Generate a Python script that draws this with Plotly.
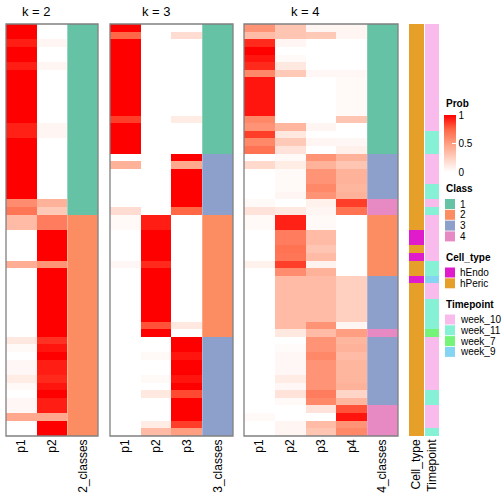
import plotly.graph_objects as go

FONT = "Liberation Sans"

# ---------------- data (54 samples, top to bottom) ----------------
n_rows = 54
rows = list(range(n_rows))

k2_labels = ["p1", "p2", "2_classes"]
k2_p1 = [1, 1, 0.93, 1, 1, 0.93, 1, 1, 1, 1, 1, 1, 1, 0.92, 0.92, 1, 1, 1, 1, 1, 1, 1, 1, 0.58, 0.68,
         0.35, 0.35, 0, 0, 0, 0, 0.42, 0, 0, 0, 0, 0, 0, 0, 0, 0, 0.12, 0.03, 0, 0.04, 0.04, 0.1, 0.03, 0,
         0.04, 0.04, 0.45, 0, 0]
k2_p2 = [0, 0, 0.05, 0, 0, 0.05, 0, 0, 0, 0, 0, 0, 0, 0.05, 0.05, 0, 0, 0, 0, 0, 0, 0, 0, 0.4, 0.28,
         0.65, 0.65, 1, 1, 1, 1, 0.55, 1, 1, 1, 1, 1, 1, 1, 1, 1, 0.88, 0.95, 1, 0.93, 0.93, 0.9, 0.95, 1,
         0.93, 0.93, 0.45, 1, 1]
k2_class = [1, 1, 1, 1, 1, 1, 1, 1, 1, 1, 1, 1, 1, 1, 1, 1, 1, 1, 1, 1, 1, 1, 1, 1, 1,
            2, 2, 2, 2, 2, 2, 2, 2, 2, 2, 2, 2, 2, 2, 2, 2, 2, 2, 2, 2, 2, 2, 2, 2, 2, 2, 2, 2, 2]

k3_labels = ["p1", "p2", "p3", "3_classes"]
k3_p1 = [1, 0.75, 1, 1, 1, 1, 1, 1, 1, 1, 1, 1, 0.85, 1, 1, 1, 1,
         0, 0.4, 0, 0, 0, 0, 0, 0.18,
         0.03, 0.03, 0, 0, 0, 0, 0.04, 0, 0, 0, 0, 0, 0, 0, 0, 0,
         0, 0, 0, 0, 0, 0, 0, 0, 0, 0, 0, 0, 0]
k3_p2 = [0, 0, 0, 0, 0, 0, 0, 0, 0, 0, 0, 0, 0, 0, 0, 0, 0,
         0, 0, 0, 0, 0, 0, 0, 0,
         0.93, 0.93, 1, 1, 1, 1, 0.9, 1, 1, 1, 1, 1, 1, 1, 0.8, 1,
         0, 0, 0.03, 0, 0, 0.03, 0, 0.12, 0, 0, 0, 0.1, 0.35]
k3_p3 = [0, 0.18, 0, 0, 0, 0, 0, 0, 0, 0, 0, 0, 0.1, 0, 0, 0, 0,
         1, 0.45, 1, 1, 1, 1, 1, 0.75,
         0, 0, 0, 0, 0, 0, 0, 0, 0, 0, 0, 0, 0, 0, 0.12, 0,
         1, 1, 0.95, 1, 1, 0.95, 1, 0.82, 1, 1, 1, 0.85, 0.5]
k3_class = [1, 1, 1, 1, 1, 1, 1, 1, 1, 1, 1, 1, 1, 1, 1, 1, 1,
            3, 3, 3, 3, 3, 3, 3, 3,
            2, 2, 2, 2, 2, 2, 2, 2, 2, 2, 2, 2, 2, 2, 2, 2,
            3, 3, 3, 3, 3, 3, 3, 3, 3, 3, 3, 3, 3]

k4_labels = ["p1", "p2", "p3", "p4", "4_classes"]
k4_p1 = [0.55, 0.35, 0.9, 1, 0.95, 0.9, 0.6, 0.95, 0.95, 0.95, 0.95, 0.95, 0.6, 0.55, 0.85, 0.6, 0.7,
         0, 0.2, 0, 0, 0, 0, 0.03, 0.15,
         0.03, 0.03, 0, 0, 0, 0, 0.07, 0,
         0, 0, 0, 0, 0, 0, 0, 0, 0, 0, 0, 0, 0, 0, 0, 0, 0, 0, 0.03, 0, 0]
k4_p2 = [0.3, 0.3, 0.05, 0, 0.03, 0.12, 0.28, 0, 0, 0, 0, 0, 0, 0.38, 0.12, 0.28, 0.15,
         0.03, 0.1, 0.03, 0.03, 0.03, 0.05, 0, 0.12,
         0.92, 0.92, 0.65, 0.65, 0.7, 0.68, 0.85, 0.58,
         0.35, 0.35, 0.35, 0.35, 0.35, 0.35, 0.35, 0.12, 0, 0.02, 0.04, 0.04, 0.04, 0.1, 0.04, 0.15,
         0.03, 0, 0, 0.05, 0.05]
k4_p3 = [0.05, 0.28, 0, 0, 0, 0, 0.04, 0, 0, 0, 0, 0, 0, 0.05, 0, 0.05, 0,
         0.55, 0.4, 0.55, 0.55, 0.6, 0.55, 0.07, 0.05,
         0.03, 0.03, 0.35, 0.35, 0.3, 0.35, 0.06, 0.4,
         0.35, 0.35, 0.35, 0.35, 0.35, 0.35, 0.55, 0.35, 0.55, 0.55, 0.6, 0.55, 0.55, 0.55, 0.55, 0.65,
         0.6, 0.15, 0, 0.35, 0.3]
k4_p4 = [0.05, 0.05, 0, 0, 0, 0, 0.04, 0.03, 0.03, 0.03, 0.03, 0.03, 0.3, 0, 0, 0.04, 0.08,
         0.4, 0.3, 0.4, 0.4, 0.38, 0.4, 0.85, 0.7,
         0, 0, 0, 0, 0, 0, 0, 0,
         0.25, 0.25, 0.25, 0.25, 0.25, 0.25, 0.05, 0.5, 0.38, 0.4, 0.35, 0.38, 0.38, 0.38, 0.4, 0.22,
         0.38, 0.8, 0.95, 0.55, 0.6]
k4_class = [1, 1, 1, 1, 1, 1, 1, 1, 1, 1, 1, 1, 1, 1, 1, 1, 1,
            3, 3, 3, 3, 3, 3, 4, 4,
            2, 2, 2, 2, 2, 2, 2, 2,
            3, 3, 3, 3, 3, 3, 3, 4, 3, 3, 3, 3, 3, 3, 3, 3,
            3, 4, 4, 4, 4]

cell_types = ["hEndo", "hPeric"]
cell_type = ["hPeric"] * 27 + ["hEndo", "hEndo", "hPeric", "hEndo", "hPeric", "hPeric", "hEndo"] + ["hPeric"] * 20

timepoints = ["week_10", "week_11", "week_7", "week_9"]
timepoint = (["week_10"] * 14 + ["week_11"] * 3 + ["week_10"] * 4 + ["week_11"] * 2 + ["week_10"]
             + ["week_11"] + ["week_10"] * 6 + ["week_11"] * 2 + ["week_9"] + ["week_10"] * 2
             + ["week_11"] * 4 + ["week_7"] + ["week_10"] * 7 + ["week_11"] * 2 + ["week_10"] * 3
             + ["week_11"])

class_names = ["1", "2", "3", "4"]
class_colors = ["#66C2A5", "#FC8D62", "#8DA0CB", "#E78AC3"]
cell_colors = ["#E01BCB", "#E69F28"]
time_colors = ["#F9BAEC", "#86F1D4", "#76F47A", "#84D4F2"]

prob_scale = [[0, "#FFFFFF"], [0.25, "rgb(255,207,191)"], [0.5, "rgb(255,158,129)"],
              [0.75, "rgb(255,103,70)"], [1, "#FF0000"]]


def step_scale(colors):
    n = len(colors)
    s = []
    for i, c in enumerate(colors):
        s.append([i / n, c])
        s.append([(i + 1) / n, c])
    return s


W = H = 504
fig = go.Figure()

panels = [
    ("x", [k2_p1, k2_p2], k2_class, k2_labels, "k = 2", (6, 98)),
    ("x2", [k3_p1, k3_p2, k3_p3], k3_class, k3_labels, "k = 3", (110, 233)),
    ("x3", [k4_p1, k4_p2, k4_p3, k4_p4], k4_class, k4_labels, "k = 4", (244, 398)),
]

for idx, (xa, probs, cls, labels, title, dom) in enumerate(panels):
    ncol = len(probs)
    z = [[p[r] for p in probs] for r in rows]
    show = idx == 0
    fig.add_trace(go.Heatmap(
        z=z, x=list(range(ncol)), y=rows, xaxis=xa, yaxis="y",
        colorscale=prob_scale, zmin=0, zmax=1, showscale=show, hoverinfo="skip",
        colorbar=dict(x=444 / W, xanchor="left", xpad=0, y=1 - 115 / H, yanchor="top", ypad=0,
                      len=57, lenmode="pixels", thickness=12, thicknessmode="pixels",
                      outlinewidth=0, tickvals=[0, 0.5, 1], ticktext=["0", "0.5", "1"],
                      ticks="inside", ticklen=4, tickcolor="white",
                      tickfont=dict(family=FONT, size=10, color="#000")) if show else None,
    ))
    fig.add_trace(go.Heatmap(
        z=[[c] for c in cls], x0=ncol, dx=1, y=rows, xaxis=xa, yaxis="y",
        colorscale=step_scale(class_colors), zmin=0.5, zmax=4.5, showscale=False, hoverinfo="skip",
    ))
    axname = "xaxis" if xa == "x" else "xaxis" + xa[1:]
    fig.update_layout(**{axname: dict(
        domain=[dom[0] / W, dom[1] / W], anchor="y", range=[-0.5, ncol + 0.5],
        tickmode="array", tickvals=list(range(ncol + 1)), ticktext=labels, tickangle=-90,
        showgrid=False, zeroline=False, showline=False, ticks="",
        tickfont=dict(family=FONT, size=12, color="#000"), fixedrange=True)})
    fig.add_annotation(x=(ncol - 1) / 2, xref=xa, y=1 - 11 / H, yref="paper", text=title,
                       showarrow=False, font=dict(family=FONT, size=13, color="#000"),
                       xanchor="center", yanchor="middle")
    fig.add_shape(type="rect", xref=xa + " domain", yref="y domain", x0=0, x1=1, y0=0, y1=1,
                  line=dict(color="#808080", width=1.3), fillcolor="rgba(0,0,0,0)")

# annotation columns
ct_idx = [cell_types.index(c) for c in cell_type]
tp_idx = [timepoints.index(t) for t in timepoint]
fig.add_trace(go.Heatmap(z=[[v] for v in ct_idx], x0=0, dx=1, y=rows, xaxis="x4", yaxis="y",
                         colorscale=step_scale(cell_colors), zmin=-0.5, zmax=1.5,
                         showscale=False, hoverinfo="skip"))
fig.add_trace(go.Heatmap(z=[[v] for v in tp_idx], x0=0, dx=1, y=rows, xaxis="x5", yaxis="y",
                         colorscale=step_scale(time_colors), zmin=-0.5, zmax=3.5,
                         showscale=False, hoverinfo="skip"))
for name, dom, lab in [("xaxis4", (409, 424), "Cell_type"), ("xaxis5", (425, 439), "Timepoint")]:
    fig.update_layout(**{name: dict(
        domain=[dom[0] / W, dom[1] / W], anchor="y", range=[-0.5, 0.5],
        tickmode="array", tickvals=[0], ticktext=[lab], tickangle=-90,
        showgrid=False, zeroline=False, showline=False, ticks="",
        tickfont=dict(family=FONT, size=12, color="#000"), fixedrange=True)})

fig.update_layout(yaxis=dict(domain=[1 - 436 / H, 1 - 24 / H], range=[n_rows - 0.5, -0.5],
                             visible=False, fixedrange=True))

# legends
LX = 444
def legend_title(text, ypx):
    fig.add_annotation(x=LX / W, y=1 - ypx / H, xref="paper", yref="paper", text="<b>" + text + "</b>",
                       showarrow=False, xanchor="left", yanchor="middle",
                       font=dict(family=FONT, size=10, color="#000"))

def legend_items(names, colors, title_y):
    for i, (nm, col) in enumerate(zip(names, colors)):
        cy = title_y + 15.5 + 10.8 * i
        fig.add_shape(type="rect", xref="paper", yref="paper",
                      x0=(LX + 1) / W, x1=(LX + 11) / W, y0=1 - (cy - 5) / H, y1=1 - (cy + 5) / H,
                      fillcolor=col, line=dict(width=0))
        fig.add_annotation(x=(LX + 14) / W, y=1 - cy / H, xref="paper", yref="paper", text=nm,
                           showarrow=False, xanchor="left", yanchor="middle",
                           font=dict(family=FONT, size=10, color="#000"))

legend_title("Prob", 104)
legend_title("Class", 188.5)
legend_items(class_names, class_colors, 188.5)
legend_title("Cell_type", 257)
legend_items(cell_types, cell_colors, 257)
legend_title("Timepoint", 304)
legend_items(timepoints, time_colors, 304)

fig.update_layout(width=W, height=H, margin=dict(l=0, r=0, t=0, b=0, autoexpand=False),
                  paper_bgcolor="white", plot_bgcolor="white", showlegend=False)

fig.write_html("out.html", config={"displayModeBar": False},
               post_script="document.body.style.margin='0px';")
